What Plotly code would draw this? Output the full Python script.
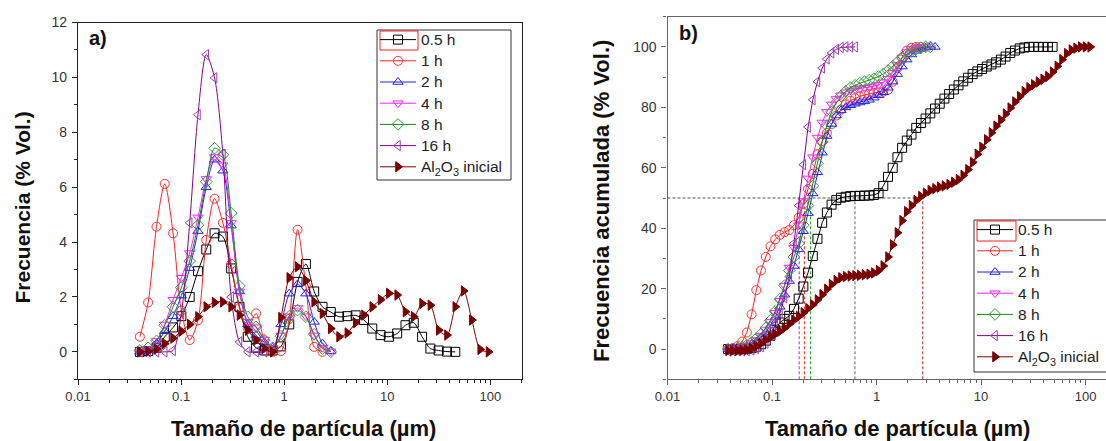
import plotly.graph_objects as go

# ---------------- data ----------------
SIZES_A = [0.0398, 0.0479, 0.0577, 0.0694, 0.0836, 0.1006, 0.1211, 0.1457, 0.1754, 0.2111,
           0.2541, 0.3058, 0.3681, 0.4431, 0.5333, 0.6419, 0.7727, 0.9301, 1.119, 1.347,
           1.622, 1.952, 2.350, 2.828, 3.404, 4.098, 4.932, 5.937, 7.145, 8.601,
           10.35, 12.46, 15.00, 18.05, 21.73, 26.16, 31.48, 37.89, 45.61, 54.90,
           66.07, 79.53, 95.72]

FREQ_05H = [0.0, 0.03, 0.15, 0.55, 0.89, 1.3, 2.0, 2.94, 3.73, 4.32, 4.2, 3.04, 1.64, 0.55, 0.15,
            0.05, 0.05, 0.2, 1.0, 2.55, 3.2, 2.2, 1.64, 1.45, 1.28, 1.3, 1.33, 1.16, 0.85, 0.61,
            0.55, 0.67, 0.97, 1.06, 0.55, 0.12, 0.05, 0.01, 0.0]
FREQ_1H = [0.55, 1.8, 4.56, 6.12, 4.32, 1.5, 0.43, 1.15, 4.08, 5.58, 4.7, 3.2, 1.6, 0.85, 1.4,
           0.42, 0.0, 0.03, 1.2, 4.45, 2.4, 0.18, 0.0]
FREQ_2H = [0.0, 0.05, 0.3, 0.75, 1.3, 2.05, 3.05, 4.4, 6.0, 7.0, 6.6, 4.6, 2.2, 1.0, 0.6,
           0.35, 0.15, 1.0, 2.12, 2.46, 2.12, 1.09, 0.3, 0.02]
FREQ_4H = [0.0, 0.1, 0.4, 1.0, 1.9, 2.7, 3.6, 4.9, 6.3, 7.1, 6.8, 4.7, 2.2, 1.1, 0.9,
           0.45, 0.15, 0.6, 1.3, 1.6, 1.3, 0.6, 0.15, 0.02]
FREQ_8H = [0.05, 0.15, 0.4, 0.97, 1.64, 2.34, 3.31, 4.62, 6.2, 7.42, 7.18, 5.05, 2.4, 1.28, 0.91,
           0.43, 0.15, 0.57, 1.3, 1.52, 1.28, 0.64, 0.12, 0.0]
FREQ_16H = [0.0, 0.0, 0.0, 0.0, 0.05, 1.4, 4.7, 8.64, 10.83, 9.98, 7.2, 2.0, 0.36, 0.0, 0.0, 0.0]
FREQ_AL2O3 = [0.0, 0.02, 0.1, 0.3, 0.5, 0.75, 1.0, 1.28, 1.64, 1.8, 1.82, 1.64, 1.34, 0.79, 0.43,
              0.12, 0.0, 1.25, 2.7, 3.1, 2.6, 1.82, 1.40, 0.85, 0.55, 0.69, 1.06, 1.34, 1.64, 1.9,
              2.13, 2.07, 1.46, 1.28, 1.76, 1.70, 0.79, 0.61, 1.64, 2.22, 1.16, 0.09, 0.0]

SIZES_B = [0.0380, 0.0422, 0.0468, 0.0519, 0.0575, 0.0638, 0.0708, 0.0785, 0.0871, 0.0966,
           0.1072, 0.1189, 0.1318, 0.1462, 0.1622, 0.1799, 0.1995, 0.2213, 0.2455, 0.2723,
           0.3020, 0.3350, 0.3715, 0.4121, 0.4571, 0.5070, 0.5623, 0.6237, 0.6918, 0.7674,
           0.8511, 0.9441, 1.047, 1.161, 1.288, 1.429, 1.585, 1.758, 1.950, 2.163,
           2.399, 2.661, 2.951, 3.273, 3.631, 4.027, 4.467, 4.955, 5.495, 6.095,
           6.761, 7.499, 8.318, 9.226, 10.23, 11.35, 12.59, 13.96, 15.49, 17.18,
           19.05, 21.13, 23.44, 26.00, 28.84, 31.99, 35.48, 39.36, 43.65, 48.42,
           53.70, 59.57, 66.07, 73.28, 81.28, 90.16, 100.0, 110.9]

CUM_05H = [0, 0, 0, 0, 0.1, 0.3, 0.8, 1.6, 2.8, 4.4, 6.4, 8.8, 10.0, 11.0, 13.3, 16.7, 20.7, 25.3,
           30.8, 36.5, 41.8, 45.2, 47.8, 49.3, 50.1, 50.4, 50.6, 50.7, 50.7, 50.8, 50.8, 51.0,
           51.6, 54.0, 57.0, 60.0, 63.5, 66.6, 69.0, 71.0, 73.2, 74.8, 76.3, 78.0, 79.6, 81.2,
           82.9, 84.4, 85.9, 87.3, 88.6, 89.8, 91.0, 91.9, 92.7, 93.5, 94.2, 94.9, 95.8, 96.8,
           98.0, 98.8, 99.5, 99.8, 100, 100, 100, 100, 100, 100]
CUM_1H = [0, 0.3, 1.0, 2.5, 5.5, 11.5, 19.5, 26.0, 30.5, 34.0, 36.3, 37.8, 38.7, 39.4, 41.0,
          43.5, 48.0, 53.0, 58.0, 64.5, 68.8, 71.5, 74.5, 77.3, 79.3, 81.0, 82.2, 83.0, 83.6,
          84.1, 84.5, 84.8, 85.0, 85.2, 85.8, 88.5, 93.0, 96.5, 98.8, 99.7, 100, 100]
CUM_2H = [0, 0.1, 0.3, 0.6, 1.0, 1.6, 2.5, 3.8, 5.5, 7.8, 10.5, 14.0, 18.0, 22.5, 27.5, 33.0,
          39.0, 45.0, 51.5, 58.5, 65.0, 70.5, 74.5, 77.3, 79.0, 80.0, 80.7, 81.2, 81.6, 82.0,
          82.5, 83.2, 84.0, 85.0, 86.5, 88.5, 91.0, 93.5, 95.8, 97.5, 98.7, 99.4, 99.8, 100, 100]
CUM_4H = [0, 0, 0.2, 0.6, 1.2, 2.0, 3.0, 4.5, 6.5, 9.0, 12.0, 16.0, 21.0, 27.0, 33.5, 41.0,
          49.0, 56.5, 63.5, 70.0, 75.0, 78.5, 81.0, 82.8, 84.0, 85.0, 85.6, 86.0, 86.3, 86.5,
          86.7, 87.0, 87.5, 88.3, 89.5, 91.5, 94.0, 96.5, 98.3, 99.3, 99.8, 100, 100]
CUM_8H = [0.0, 0.1, 0.3, 0.7, 1.3, 2.2, 3.5, 5.0, 7.0, 9.5, 12.5, 16.5, 21.0, 26.0, 30.5, 35.0,
          41.0, 47.5, 54.0, 61.5, 68.5, 74.0, 78.5, 81.5, 83.7, 85.3, 86.5, 87.3, 88.0, 88.5,
          89.0, 89.5, 90.2, 91.0, 92.2, 93.6, 95.0, 96.4, 97.6, 98.6, 99.3, 99.7, 100, 100]
CUM_16H = [-0.5, -0.5, -0.5, -0.5, -0.5, -0.3, 0.2, 0.8, 2.0, 4.5, 8.0, 12.0, 17.0, 24.0, 35.0,
           47.5, 61.0, 73.5, 82.5, 88.5, 93.0, 96.0, 98.0, 99.2, 99.8, 100, 100, 100]
CUM_AL2O3 = [-0.5, -0.5, -0.5, -0.4, -0.2, 0.3, 1.0, 1.9, 3.0, 4.0, 5.0, 5.9, 7.0, 8.3, 9.6,
             10.8, 12.0, 13.4, 14.7, 16.3, 18.0, 19.8, 21.4, 22.7, 23.6, 24.0, 24.2, 24.3, 24.4,
             24.6, 24.8, 25.2, 26.0, 27.5, 30.5, 34.5, 38.5, 42.5, 45.5, 47.5, 49.2, 50.5, 51.6,
             52.5, 53.1, 53.6, 54.0, 54.5, 55.2, 56.1, 57.5, 59.4, 61.8, 64.5, 66.8, 69.3, 71.6,
             73.8, 75.8, 77.8, 79.8, 81.8, 83.6, 85.2, 86.5, 87.5, 88.4, 89.3, 90.2, 91.7, 93.6,
             95.8, 97.8, 99.0, 99.6, 100, 100, 100]

D50_SIZES = [0.182, 0.204, 0.234, 0.622, 2.77]
D50_LEVEL = 50

SERIES_NAMES = ["0.5 h", "1 h", "2 h", "4 h", "8 h", "16 h", "Al<sub>2</sub>O<sub>3</sub> inicial"]
X_TICKS = [0.01, 0.1, 1, 10, 100]
X_TICKTEXT = ["0.01", "0.1", "1", "10", "100"]

# ---------------- styles ----------------
LINE_COLORS = ["#000000", "#ff2020", "#2020ff", "#ff20ff", "#118811", "#880088", "#7a0000"]
MARKER_COLORS = ["#000000", "#ff3030", "#2020ff", "#ff20ff", "#3a9a3a", "#9a40b0", "#7a0000"]
SYMBOLS = ["square-open", "circle-open", "triangle-up-open", "triangle-down-open",
           "diamond-open", "triangle-left-open", "triangle-right"]
D50_COLORS = ["#9933cc", "#ff2020", "#22aa22", "#666666", "#aa2222"]

FONT = "Arial, Liberation Sans, sans-serif"
W, H = 1106, 441

def leg_label(s):
    return '<span style="font-size:15.5px">' + s + '</span>'

freq_sets = [FREQ_05H, FREQ_1H, FREQ_2H, FREQ_4H, FREQ_8H, FREQ_16H, FREQ_AL2O3]
cum_sets = [CUM_05H, CUM_1H, CUM_2H, CUM_4H, CUM_8H, CUM_16H, CUM_AL2O3]

fig = go.Figure()

for i, vals in enumerate(freq_sets):
    fig.add_trace(go.Scatter(
        x=SIZES_A[:len(vals)], y=vals, name=leg_label(SERIES_NAMES[i]), mode="lines+markers",
        line=dict(color=LINE_COLORS[i], width=1, shape="spline", smoothing=0.8),
        marker=dict(symbol=SYMBOLS[i], size=9, color=MARKER_COLORS[i],
                    line=dict(color=MARKER_COLORS[i], width=1)),
        xaxis="x", yaxis="y", legend="legend"))

# guide lines (panel b)
fig.add_trace(go.Scatter(x=[0.01, D50_SIZES[-1]], y=[D50_LEVEL, D50_LEVEL], mode="lines",
                         line=dict(color="#555555", width=1, dash="3px,2px"),
                         showlegend=False, xaxis="x2", yaxis="y2", hoverinfo="skip"))
for s, c in zip(D50_SIZES, D50_COLORS):
    fig.add_trace(go.Scatter(x=[s, s], y=[-10, D50_LEVEL], mode="lines",
                             line=dict(color=c, width=1, dash="3px,2px"),
                             showlegend=False, xaxis="x2", yaxis="y2", hoverinfo="skip"))

for i, vals in enumerate(cum_sets):
    fig.add_trace(go.Scatter(
        x=SIZES_B[:len(vals)], y=vals, name=leg_label(SERIES_NAMES[i]), mode="lines+markers",
        line=dict(color=LINE_COLORS[i], width=1),
        marker=dict(symbol=SYMBOLS[i], size=9, color=MARKER_COLORS[i],
                    line=dict(color=MARKER_COLORS[i], width=1)),
        xaxis="x2", yaxis="y2", legend="legend2"))

minor_x = [k * d for d in [0.01, 0.1, 1, 10, 100] for k in range(2, 10)]

def xax(domain, rng, color):
    return dict(type="log", domain=domain, range=rng, showline=True, linecolor=color,
                linewidth=1.3, mirror=True, ticks="outside", ticklen=5, tickwidth=1,
                tickcolor=color, tickmode="array", tickvals=X_TICKS, ticktext=X_TICKTEXT,
                showgrid=False, zeroline=False, automargin=False,
                tickfont=dict(family=FONT, size=13, color="#333333"),
                minor=dict(tickmode="array", tickvals=minor_x, ticks="outside", ticklen=3,
                           tickwidth=1, tickcolor=color, showgrid=False))

def yax(domain, rng, dtick, mirror, color, anchor):
    return dict(domain=domain, range=rng, showline=True, linecolor=color, linewidth=1.3,
                mirror=mirror, ticks="outside", ticklen=5, tickwidth=1, tickcolor=color,
                tick0=0, dtick=dtick, showgrid=False, zeroline=False, anchor=anchor,
                ticklabelstandoff=2, automargin=False,
                tickfont=dict(family=FONT, size=14, color="#333333"),
                minor=dict(dtick=dtick / 2, tick0=0, ticks="outside", ticklen=3, tickwidth=1,
                           tickcolor=color, showgrid=False))

LEG_FONT = dict(family=FONT, size=14, color="#222222")
LEG_COMMON = dict(xanchor="left", yanchor="top", borderwidth=0,
                  bgcolor="rgba(255,255,255,0)", font=LEG_FONT, tracegroupgap=0,
                  itemwidth=36)
fig.update_layout(
    width=W, height=H, margin=dict(l=0, r=0, t=0, b=0, autoexpand=False),
    paper_bgcolor="white", plot_bgcolor="white",
    xaxis=xax([78 / W, 522 / W], [-2, 2.306], "#222222") | dict(anchor="y"),
    yaxis=yax([1 - 379.3 / H, 1 - 22.5 / H], [-1, 12], 2, True, "#222222", "x"),
    xaxis2=xax([667.5 / W, 1.0], [-2, 2.196], "#666666") | dict(anchor="y2"),
    yaxis2=yax([1 - 379.3 / H, 1 - 16.7 / H], [-10, 110], 20, False, "#666666", "x2"),
    legend=dict(x=375 / W, y=1 - 24 / H, **LEG_COMMON),
    legend2=dict(x=972 / W, y=1 - 214 / H, **LEG_COMMON),
    showlegend=True,
)

ann = [
    dict(text="<b>a)</b>", x=98 / W, y=1 - 38 / H, size=20),
    dict(text="<b>b)</b>", x=688 / W, y=1 - 33 / H, size=20),
    dict(text="<b>Tamaño de partícula (µm)</b>", x=303 / W, y=1 - 428 / H, size=22),
    dict(text="<b>Tamaño de partícula (µm)</b>", x=897 / W, y=1 - 428 / H, size=22),
    dict(text="<b>Frecuencia (% Vol.)</b>", x=21.5 / W, y=1 - 208 / H, size=21, angle=-90),
    dict(text="<b>Frecuencia acumulada (% Vol.)</b>", x=601 / W, y=1 - 201 / H, size=22, angle=-90),
]
for a in ann:
    fig.add_annotation(text=a["text"], x=a["x"], y=a["y"], xref="paper", yref="paper",
                       xanchor="center", yanchor="middle", showarrow=False,
                       textangle=a.get("angle", 0),
                       font=dict(family=FONT, size=a["size"], color="#111111"))

# legend frames (pixel boxes converted to paper units)
for (x0, y0, x1, y1) in [(377, 30, 511, 180), (974, 220, 1112, 372)]:
    fig.add_shape(type="rect", xref="paper", yref="paper", x0=x0 / W, x1=x1 / W,
                  y0=1 - y1 / H, y1=1 - y0 / H, line=dict(color="#333333", width=1),
                  layer="above")
# red selection boxes around first legend symbol (as in the original)
for (x0, y0, x1, y1) in [(380, 31, 418, 50), (977, 221, 1016, 241)]:
    fig.add_shape(type="rect", xref="paper", yref="paper", x0=x0 / W, x1=x1 / W,
                  y0=1 - y1 / H, y1=1 - y0 / H, line=dict(color="#ff2020", width=1),
                  layer="above")

fig.write_html("out.html")
